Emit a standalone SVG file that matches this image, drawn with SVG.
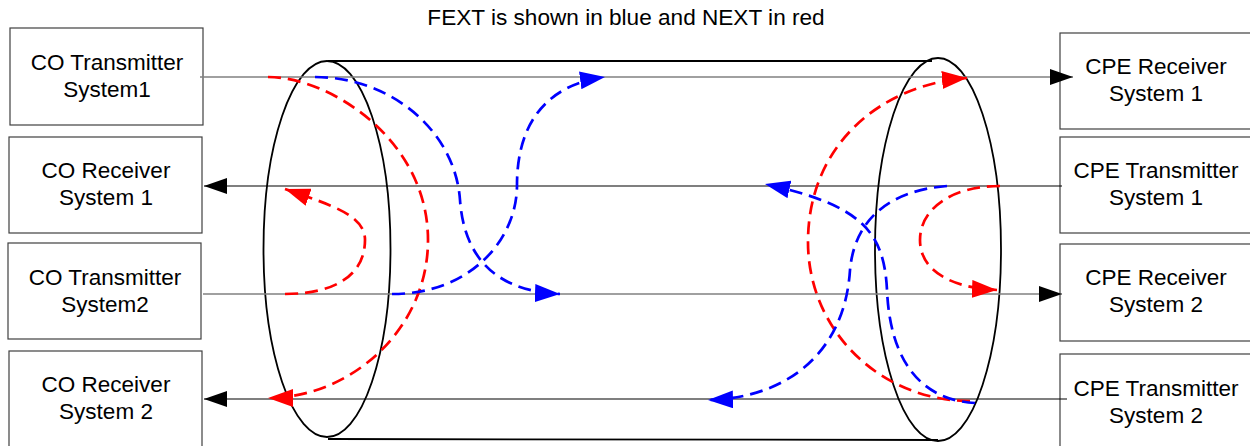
<svg xmlns="http://www.w3.org/2000/svg" width="1250" height="446" viewBox="0 0 1250 446">
<style>
.box{fill:#fff;stroke:#404040;stroke-width:1.2}
.lbl{font-family:"Liberation Sans",Arial,sans-serif;font-size:22.5px;fill:#000;text-anchor:middle}
.title{font-family:"Liberation Sans",Arial,sans-serif;font-size:22.6px;fill:#000;text-anchor:middle}
.gl{stroke:#808080;stroke-width:1.5;fill:none}
.bl{stroke:#000;stroke-width:1.2;fill:none}
.cyl{stroke:#000;stroke-width:1.8;fill:none}
.red{stroke:#ff0000;stroke-width:2.7;fill:none;stroke-dasharray:13,7}
.blue{stroke:#0000ff;stroke-width:2.7;fill:none;stroke-dasharray:13,7}
</style>
<defs>
<marker id="ak" markerUnits="userSpaceOnUse" markerWidth="24" markerHeight="16" refX="23" refY="8" orient="auto"><path d="M0,0 L23,8 L0,16 Z" fill="#000"/></marker>
<marker id="ar" markerUnits="userSpaceOnUse" markerWidth="26" markerHeight="18" refX="25" refY="9" orient="auto"><path d="M0,0 L25,9 L0,18 Z" fill="#ff0000"/></marker>
<marker id="ab" markerUnits="userSpaceOnUse" markerWidth="26" markerHeight="18" refX="25" refY="9" orient="auto"><path d="M0,0 L25,9 L0,18 Z" fill="#0000ff"/></marker>
</defs>
<rect width="1250" height="446" fill="#fff"/>
<text class="title" x="626" y="25">FEXT is shown in blue and NEXT in red</text>

<g id="cylinder">
<line class="cyl" x1="328" y1="61" x2="932" y2="61"/>
<line class="cyl" x1="328" y1="439" x2="938" y2="440"/>
<ellipse class="cyl" cx="327" cy="249" rx="63.5" ry="188"/>
<ellipse class="cyl" cx="938" cy="249.5" rx="63" ry="191.5"/>
</g>

<g id="co-tx1"><rect class="box" x="10" y="28" width="193" height="97"/><text class="lbl" x="107" y="70">CO Transmitter</text><text class="lbl" x="107" y="97">System1</text></g>
<g id="co-rx1"><rect class="box" x="9" y="137" width="193" height="96"/><text class="lbl" x="106" y="178">CO Receiver</text><text class="lbl" x="106" y="205">System 1</text></g>
<g id="co-tx2"><rect class="box" x="8" y="243" width="193" height="96"/><text class="lbl" x="105" y="285">CO Transmitter</text><text class="lbl" x="105" y="312">System2</text></g>
<g id="co-rx2"><rect class="box" x="9" y="351" width="193" height="100"/><text class="lbl" x="106" y="392">CO Receiver</text><text class="lbl" x="106" y="419">System 2</text></g>

<g id="cpe-rx1"><rect class="box" x="1060" y="33" width="196" height="96"/><text class="lbl" x="1156" y="74">CPE Receiver</text><text class="lbl" x="1156" y="101">System 1</text></g>
<g id="cpe-tx1"><rect class="box" x="1060" y="137" width="196" height="96"/><text class="lbl" x="1156" y="178">CPE Transmitter</text><text class="lbl" x="1156" y="205">System 1</text></g>
<g id="cpe-rx2"><rect class="box" x="1060" y="244" width="196" height="97"/><text class="lbl" x="1156" y="285">CPE Receiver</text><text class="lbl" x="1156" y="312">System 2</text></g>
<g id="cpe-tx2"><rect class="box" x="1060" y="354" width="196" height="100"/><text class="lbl" x="1156" y="396">CPE Transmitter</text><text class="lbl" x="1156" y="423">System 2</text></g>

<g id="connectors">
<line class="gl" x1="200" y1="77" x2="1073" y2="77" marker-end="url(#ak)"/>
<line class="bl" x1="1062" y1="186" x2="204" y2="186" marker-end="url(#ak)"/>
<line class="gl" x1="203" y1="294" x2="1062" y2="294" marker-end="url(#ak)"/>
<line class="bl" x1="1067" y1="399" x2="204" y2="399" marker-end="url(#ak)"/>

<path class="red" d="M268,77 C330,77 428,140 428,240 C428,330 350,398 268,398" marker-end="url(#ar)"/>
<path class="red" d="M285,294 C335,294 365,275 365,240 C365,215 331,205 285,189" marker-end="url(#ar)"/>
<path class="blue" d="M315,77 C390,77 455,130 460,200 C465,270 510,292 560,294" marker-end="url(#ab)"/>
<path class="blue" d="M392,294 C470,294 517,240 517,185 C517,125 545,85 605,77" marker-end="url(#ab)"/>

<path class="red" d="M970,401 C880,401 807,330 808,240 C809,145 880,85 967,78" marker-end="url(#ar)"/>
<path class="red" d="M1000,186 C950,186 920,210 920,240 C920,270 950,288 997,290" marker-end="url(#ar)"/>
<path class="blue" d="M947,186 C895,190 855,215 850,270 C845,350 790,398 708,400" marker-end="url(#ab)"/>
<path class="blue" d="M975,403 C920,400 890,360 887,290 C884,230 860,205 765,184" marker-end="url(#ab)"/>
</g>
</svg>
